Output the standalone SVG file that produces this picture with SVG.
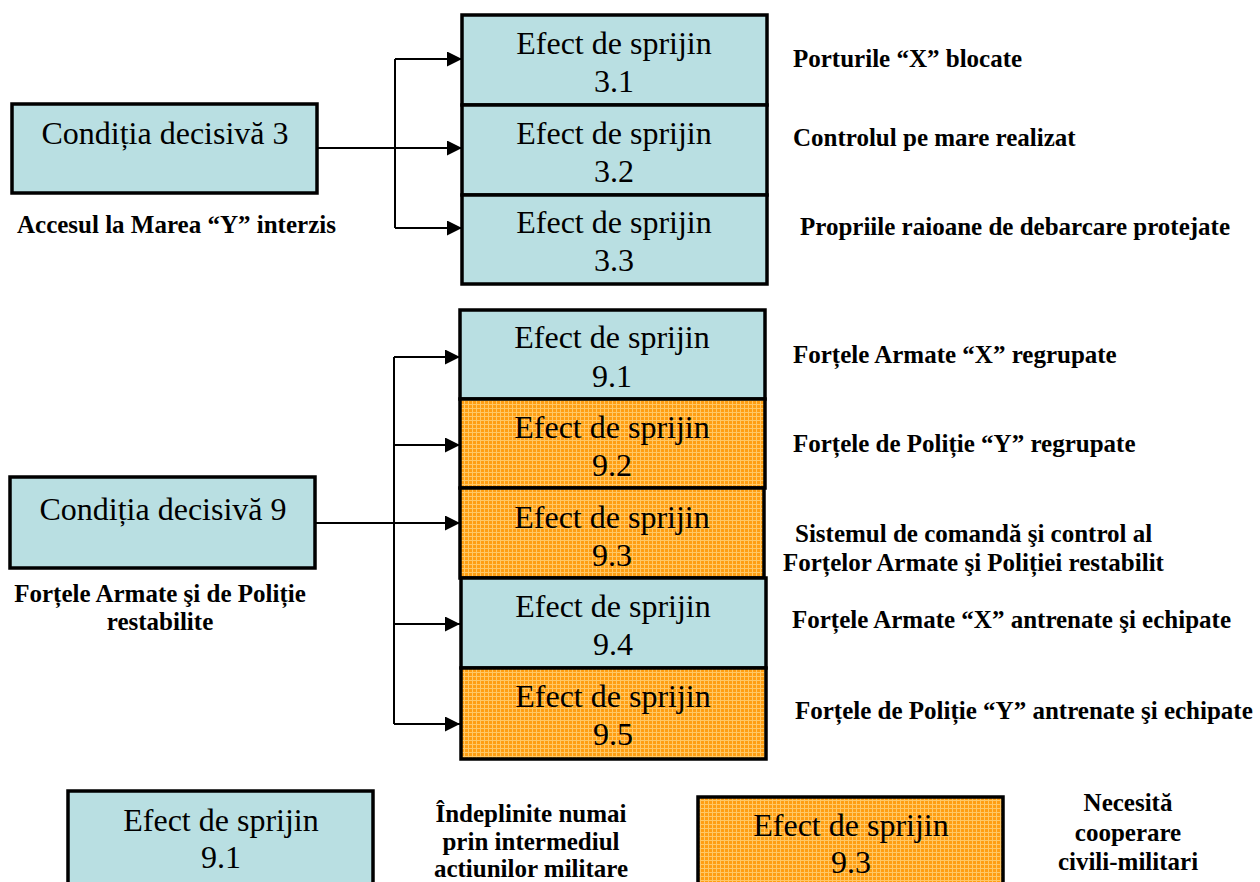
<svg xmlns="http://www.w3.org/2000/svg" width="1260" height="882" viewBox="0 0 1260 882">
<style>
.blue{fill:#B9DFE2;stroke:#000;stroke-width:3.5}
.orange{fill:url(#grid);stroke:#000;stroke-width:3.5}
.bt{font-family:"Liberation Serif","Times New Roman",serif;font-size:32px;fill:#000;text-anchor:middle}
.lbl{font-family:"Liberation Serif","Times New Roman",serif;font-size:25px;font-weight:bold;fill:#000}
.mid{text-anchor:middle}
.conn{stroke:#000;stroke-width:2;fill:none}
</style>
<defs>
<pattern id="grid" width="4" height="4" patternUnits="userSpaceOnUse">
<rect width="4" height="4" fill="#FF9E12"/>
<rect x="0" y="0" width="4" height="1" fill="#FFC866"/>
<rect x="0" y="0" width="1" height="4" fill="#FFC866"/>
</pattern>
<marker id="arr" markerUnits="userSpaceOnUse" markerWidth="17" markerHeight="16" refX="15" refY="7.5" orient="auto">
<path d="M0,0 L15,7.5 L0,15 Z" fill="#000"/>
</marker>
</defs>

<g id="connectors">
<line class="conn" x1="317" y1="148" x2="462" y2="148" marker-end="url(#arr)"/>
<line class="conn" x1="395" y1="59" x2="395" y2="228"/>
<line class="conn" x1="395" y1="59" x2="462" y2="59" marker-end="url(#arr)"/>
<line class="conn" x1="395" y1="228" x2="462" y2="228" marker-end="url(#arr)"/>
<line class="conn" x1="315" y1="523" x2="460" y2="523" marker-end="url(#arr)"/>
<line class="conn" x1="394" y1="357" x2="394" y2="724"/>
<line class="conn" x1="394" y1="357" x2="460" y2="357" marker-end="url(#arr)"/>
<line class="conn" x1="394" y1="445" x2="460" y2="445" marker-end="url(#arr)"/>
<line class="conn" x1="394" y1="624" x2="460" y2="624" marker-end="url(#arr)"/>
<line class="conn" x1="394" y1="724" x2="460" y2="724" marker-end="url(#arr)"/>
</g>

<g id="cd3">
<rect class="blue" x="12" y="104" width="305" height="89"/>
<text class="bt" x="165" y="144">Condiția decisivă 3</text>
<text class="lbl" x="17" y="233">Accesul la Marea “Y” interzis</text>
</g>

<g id="es31">
<rect class="blue" x="462" y="15" width="305" height="90"/>
<text class="bt" x="614" y="54">Efect de sprijin</text>
<text class="bt" x="614" y="92">3.1</text>
<text class="lbl" x="793" y="67">Porturile “X” blocate</text>
</g>
<g id="es32">
<rect class="blue" x="462" y="105" width="305" height="90"/>
<text class="bt" x="614" y="144">Efect de sprijin</text>
<text class="bt" x="614" y="182">3.2</text>
<text class="lbl" x="793" y="146">Controlul pe mare realizat</text>
</g>
<g id="es33">
<rect class="blue" x="462" y="195" width="305" height="89"/>
<text class="bt" x="614" y="233">Efect de sprijin</text>
<text class="bt" x="614" y="271">3.3</text>
<text class="lbl" x="800" y="235">Propriile raioane de debarcare protejate</text>
</g>

<g id="cd9">
<rect class="blue" x="10" y="477" width="305" height="91"/>
<text class="bt" x="163" y="520">Condiția decisivă 9</text>
<text class="lbl mid" x="160" y="602">Forțele Armate şi de Poliție</text>
<text class="lbl mid" x="160" y="630">restabilite</text>
</g>

<g id="es91">
<rect class="blue" x="460" y="310" width="305" height="89"/>
<text class="bt" x="612" y="348">Efect de sprijin</text>
<text class="bt" x="612" y="387">9.1</text>
<text class="lbl" x="793" y="363">Forțele Armate “X” regrupate</text>
</g>
<g id="es92">
<rect class="orange" x="460" y="399" width="305" height="89"/>
<text class="bt" x="612" y="438">Efect de sprijin</text>
<text class="bt" x="612" y="476">9.2</text>
<text class="lbl" x="793" y="452">Forțele de Poliție “Y” regrupate</text>
</g>
<g id="es93">
<rect class="orange" x="460" y="488" width="304" height="90"/>
<text class="bt" x="612" y="528">Efect de sprijin</text>
<text class="bt" x="612" y="566">9.3</text>
<text class="lbl" x="795" y="542">Sistemul de comandă şi control al</text>
<text class="lbl" x="783" y="571">Forțelor Armate şi Poliției restabilit</text>
</g>
<g id="es94">
<rect class="blue" x="461" y="578" width="305" height="90"/>
<text class="bt" x="613" y="617">Efect de sprijin</text>
<text class="bt" x="613" y="655">9.4</text>
<text class="lbl" x="792" y="628">Forțele Armate “X” antrenate şi echipate</text>
</g>
<g id="es95">
<rect class="orange" x="461" y="668" width="305" height="91"/>
<text class="bt" x="613" y="707">Efect de sprijin</text>
<text class="bt" x="613" y="745">9.5</text>
<text class="lbl" x="795" y="719">Forțele de Poliție “Y” antrenate şi echipate</text>
</g>

<g id="legend-military">
<rect class="blue" x="68" y="791" width="305" height="100"/>
<text class="bt" x="221" y="831">Efect de sprijin</text>
<text class="bt" x="221" y="868">9.1</text>
<text class="lbl mid" x="531" y="822">Îndeplinite numai</text>
<text class="lbl mid" x="531" y="850">prin intermediul</text>
<text class="lbl mid" x="531" y="877">actiunilor militare</text>
</g>
<g id="legend-civil">
<rect class="orange" x="698" y="797" width="305" height="100"/>
<text class="bt" x="851" y="836">Efect de sprijin</text>
<text class="bt" x="851" y="873">9.3</text>
<text class="lbl mid" x="1128" y="811">Necesită</text>
<text class="lbl mid" x="1128" y="841">cooperare</text>
<text class="lbl mid" x="1128" y="870">civili-militari</text>
</g>
</svg>
